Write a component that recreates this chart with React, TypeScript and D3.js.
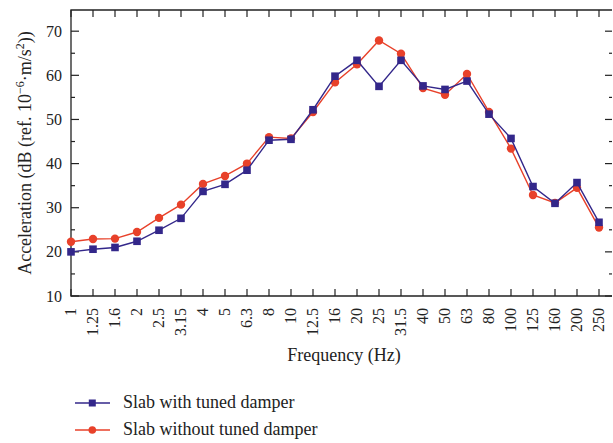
import { useEffect, useRef } from 'react'
import * as d3 from 'd3'

// frequency bands (Hz)
const freqs = ['1', '1.25', '1.6', '2', '2.5', '3.15', '4', '5', '6.3', '8', '10', '12.5', '16', '20', '25', '31.5', '40', '50', '63', '80', '100', '125', '160', '200', '250']

const withDamper = [20.0, 20.6, 21.0, 22.4, 24.9, 27.6, 33.7, 35.3, 38.5, 45.3, 45.5, 52.2, 59.8, 63.4, 57.5, 63.4, 57.6, 56.8, 58.7, 51.2, 45.7, 34.8, 31.0, 35.7, 26.7]
const withoutDamper = [22.3, 22.9, 23.0, 24.5, 27.7, 30.7, 35.4, 37.2, 40.0, 46.0, 45.7, 51.7, 58.4, 62.5, 67.9, 64.9, 57.1, 55.6, 60.3, 51.7, 43.4, 32.9, 31.1, 34.5, 25.5]

const yTicks = [10, 20, 30, 40, 50, 60, 70]
const yMinor = [15, 25, 35, 45, 55, 65]

const BLUE = '#33278a'
const RED = '#e8412a'
const FONT = '"Liberation Serif", "DejaVu Serif", serif'

const App = () => {
  const svgRef = useRef<SVGSVGElement>(null)

  useEffect(() => {
    if (!svgRef.current) return
    const svg = d3.select(svgRef.current)
    svg.selectAll('*').remove()

    const left = 71
    const right = 612
    const top = 10
    const bottom = 296

    // point scale: 1 Hz sits on the left edge, half a step remains on the right
    const x = d3.scalePoint<string>().domain(freqs).range([left, 599])
    const y = d3.scaleLinear().domain([10, 74.8]).range([bottom, top])

    const g = svg.append('g')

    // frame (no right line visible in the original)
    g.append('path')
      .attr('d', `M${right},${top}H${left}V${bottom}H${right}`)
      .attr('fill', 'none')
      .attr('stroke', '#222')
      .attr('stroke-width', 1.3)

    // x ticks, top and bottom, pointing inward
    freqs.forEach((f) => {
      const xx = x(f)!
      g.append('line').attr('x1', xx).attr('x2', xx).attr('y1', top).attr('y2', top + 7)
        .attr('stroke', '#222').attr('stroke-width', 1.2)
      g.append('line').attr('x1', xx).attr('x2', xx).attr('y1', bottom).attr('y2', bottom - 7)
        .attr('stroke', '#222').attr('stroke-width', 1.2)
    })

    // y ticks
    yTicks.forEach((t) => {
      g.append('line').attr('x1', left).attr('x2', left + 8).attr('y1', y(t)).attr('y2', y(t))
        .attr('stroke', '#222').attr('stroke-width', 1.2)
      g.append('line').attr('x1', right - 7).attr('x2', right).attr('y1', y(t)).attr('y2', y(t))
        .attr('stroke', '#222').attr('stroke-width', 1.2)
    })
    yMinor.forEach((t) => {
      g.append('line').attr('x1', left).attr('x2', left + 4).attr('y1', y(t)).attr('y2', y(t))
        .attr('stroke', '#222').attr('stroke-width', 1.2)
      g.append('line').attr('x1', right - 3).attr('x2', right).attr('y1', y(t)).attr('y2', y(t))
        .attr('stroke', '#222').attr('stroke-width', 1.2)
    })

    // y tick labels
    g.selectAll('.ylab')
      .data(yTicks)
      .enter()
      .append('text')
      .attr('x', left - 9)
      .attr('y', (d) => y(d))
      .attr('dy', '0.35em')
      .attr('text-anchor', 'end')
      .style('font-family', FONT)
      .style('font-size', '16px')
      .style('fill', '#222')
      .text((d) => d)

    // x tick labels, rotated
    g.selectAll('.xlab')
      .data(freqs)
      .enter()
      .append('text')
      .attr('transform', (d) => `translate(${x(d)! + 5},${bottom + 12}) rotate(-90)`)
      .attr('text-anchor', 'end')
      .style('font-family', FONT)
      .style('font-size', '16px')
      .style('fill', '#222')
      .text((d) => d)

    // axis titles
    g.append('text')
      .attr('x', 344)
      .attr('y', 361)
      .attr('text-anchor', 'middle')
      .style('font-family', FONT)
      .style('font-size', '18px')
      .style('fill', '#222')
      .text('Frequency (Hz)')

    const yt = g.append('text')
      .attr('transform', `translate(31,153) rotate(-90)`)
      .attr('text-anchor', 'middle')
      .style('font-family', FONT)
      .style('font-size', '18px')
      .style('fill', '#222')
    yt.append('tspan').text('Acceleration (dB (ref. 10')
    yt.append('tspan').attr('dy', -7).style('font-size', '12px').text('\u22126')
    yt.append('tspan').attr('dy', 7).text('\u00b7m/s')
    yt.append('tspan').attr('dy', -7).style('font-size', '12px').text('2')
    yt.append('tspan').attr('dy', 7).text('))')

    const line = d3.line<number>().x((_, i) => x(freqs[i])!).y((d) => y(d))

    // red series first so blue sits on top where they overlap
    const series = [
      { vals: withoutDamper, color: RED, shape: 'circle' },
      { vals: withDamper, color: BLUE, shape: 'square' },
    ]
    series.forEach((s) => {
      g.append('path').datum(s.vals).attr('d', line)
        .attr('fill', 'none').attr('stroke', s.color).attr('stroke-width', 1.4)
      s.vals.forEach((v, i) => {
        if (s.shape === 'circle') {
          g.append('circle').attr('cx', x(freqs[i])!).attr('cy', y(v)).attr('r', 4.2).attr('fill', s.color)
        } else {
          g.append('rect').attr('x', x(freqs[i])! - 3.8).attr('y', y(v) - 3.8)
            .attr('width', 7.6).attr('height', 7.6).attr('fill', s.color)
        }
      })
    })

    // legend
    const legend = [
      { label: 'Slab with tuned damper', color: BLUE, shape: 'square', yy: 403 },
      { label: 'Slab without tuned damper', color: RED, shape: 'circle', yy: 430 },
    ]
    legend.forEach((l) => {
      g.append('line').attr('x1', 75).attr('x2', 110).attr('y1', l.yy).attr('y2', l.yy)
        .attr('stroke', l.color).attr('stroke-width', 1.4)
      if (l.shape === 'square') {
        g.append('rect').attr('x', 92.3 - 3.5).attr('y', l.yy - 3.5).attr('width', 7).attr('height', 7).attr('fill', l.color)
      } else {
        g.append('circle').attr('cx', 92.3).attr('cy', l.yy).attr('r', 3.8).attr('fill', l.color)
      }
      g.append('text')
        .attr('x', 123)
        .attr('y', l.yy + 5)
        .style('font-family', FONT)
        .style('font-size', '18px')
        .style('fill', '#222')
        .text(l.label)
    })
  }, [])

  return (
    <svg
      ref={svgRef}
      width={613}
      height={443}
      style={{ position: 'absolute', left: 0, top: 0, background: '#fff' }}
    />
  )
}

export default App
